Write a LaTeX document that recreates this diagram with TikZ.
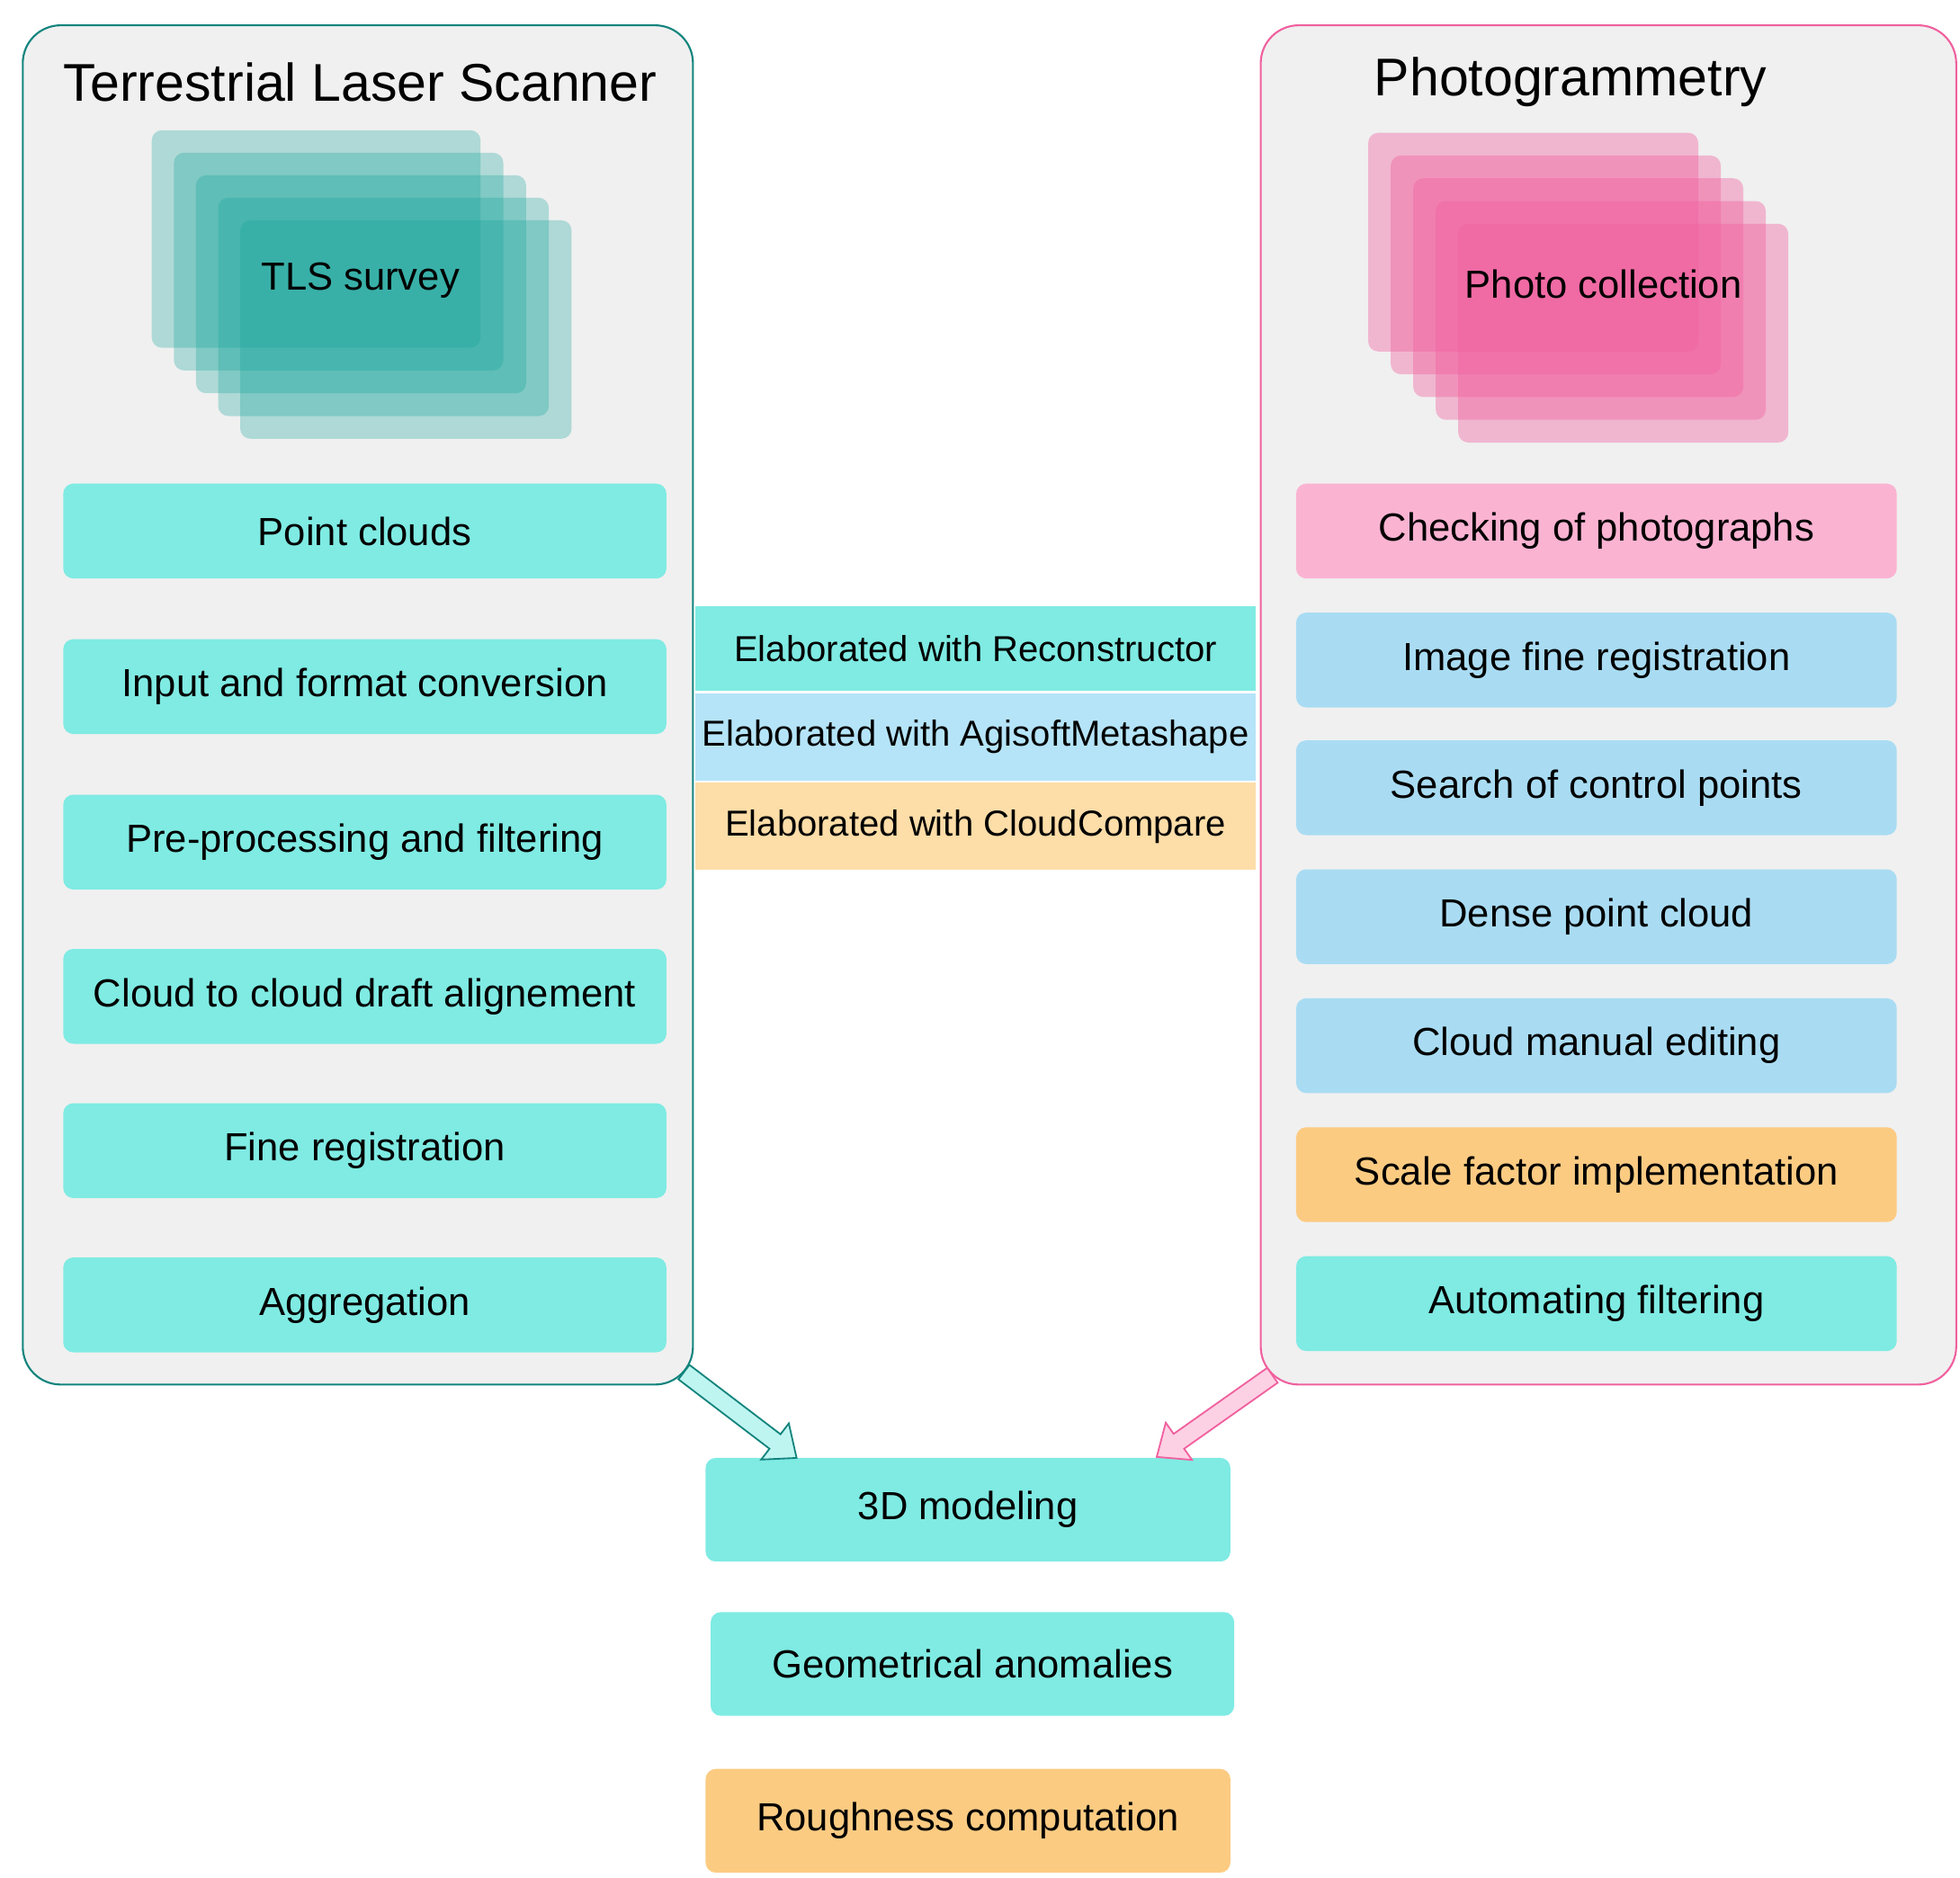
\documentclass[tikz,border=0pt]{standalone}
\usepackage{fontspec}
\setmainfont{Liberation Sans}
\usetikzlibrary{shapes.arrows}
\definecolor{tealb}{HTML}{7FEBE3}
\definecolor{blueb}{HTML}{A9DCF3}
\definecolor{pinkb}{HTML}{FBB3D2}
\definecolor{orgb}{HTML}{FCCB82}
\definecolor{orgl}{HTML}{FDDDA8}
\definecolor{bluel}{HTML}{B5E4F8}
\definecolor{tealdk}{HTML}{16A59C}
\definecolor{pinkdk}{HTML}{F0609E}
\definecolor{panel}{HTML}{F0F0F0}
\tikzset{
 box/.style={rounded corners=8pt, inner sep=0pt, font=\fontsize{31}{36}\selectfont},
 leg/.style={inner sep=0pt, font=\fontsize{28.5}{32}\selectfont},
 tl/.style={fill=tealdk, fill opacity=0.3, rounded corners=8pt},
 ph/.style={fill=pinkdk, fill opacity=0.4, rounded corners=8pt},
 arr/.style={single arrow,line width=1.3pt,minimum height=112pt,minimum width=36pt,single arrow head extend=10pt,inner sep=6pt,text height=0pt,text depth=0pt,single arrow tip angle=80},
}
\newcommand{\bx}[6]{\node[box,fill=#6,minimum width=#3pt-#2pt,minimum height=75pt] (#1) at ({(#2+#3)/2},#4) {#5};}
\begin{document}
\begin{tikzpicture}[x=1pt,y=-1pt]
\useasboundingbox (0,0) rectangle (1550,1485);
\draw[tealdk!80!black, line width=1.5pt, fill=panel, rounded corners=30pt] (18,20) rectangle (548,1095);
\draw[pinkdk, line width=1.5pt, fill=panel, rounded corners=30pt] (997,20) rectangle (1547,1095);
\node[font=\fontsize{42}{48}\selectfont] (t1) at (285,65) {Terrestrial Laser Scanner};
\node[font=\fontsize{42}{48}\selectfont] (t2) at (1242,65) {Photogrammetry};
\foreach \i in {0,...,4}{
 \fill[tl] ({120+17.5*\i},{103+17.8*\i}) rectangle ({380+18*\i},{275+18*\i});
 \fill[ph] ({1082+17.8*\i},{105+18*\i}) rectangle ({1343+17.8*\i},{278+18*\i});
}
\node[font=\fontsize{31}{36}\selectfont] (tls) at (285,222) {TLS survey};
\node[font=\fontsize{31}{36}\selectfont] (pc) at (1268,225) {Photo collection};
\bx{l1}{50}{527}{420}{Point clouds}{tealb}
\bx{l2}{50}{527}{543}{Input and format conversion}{tealb}
\bx{l3}{50}{527}{666}{Pre-processing and filtering}{tealb}
\bx{l4}{50}{527}{788}{Cloud to cloud draft alignement}{tealb}
\bx{l5}{50}{527}{910}{Fine registration}{tealb}
\bx{l6}{50}{527}{1032}{Aggregation}{tealb}
\bx{r1}{1025}{1500}{420}{Checking of photographs}{pinkb}
\bx{r2}{1025}{1500}{522}{Image fine registration}{blueb}
\bx{r3}{1025}{1500}{623}{Search of control points}{blueb}
\bx{r4}{1025}{1500}{725}{Dense point cloud}{blueb}
\bx{r5}{1025}{1500}{827}{Cloud manual editing}{blueb}
\bx{r6}{1025}{1500}{929}{Scale factor implementation}{orgb}
\bx{r7}{1025}{1500}{1031}{Automating filtering}{tealb}
\node[leg,fill=tealb,minimum width=443pt,minimum height=67pt] (g1) at (771.5,513) {Elaborated with Reconstructor};
\node[leg,fill=bluel,minimum width=443pt,minimum height=69pt] (g2) at (771.5,583) {Elaborated with AgisoftMetashape};
\node[leg,fill=orgl,minimum width=443pt,minimum height=69pt] (g3) at (771.5,653.5) {Elaborated with CloudCompare};
\node[box,fill=tealb,minimum width=415pt,minimum height=82pt] (b1) at (765.5,1194) {3D modeling};
\node[box,fill=tealb,minimum width=414pt,minimum height=82pt] (b2) at (769,1316) {Geometrical anomalies};
\node[box,fill=orgb,minimum width=415pt,minimum height=82pt] (b3) at (765.5,1440) {Roughness computation};
\node[arr,draw=tealdk!80!black,fill=tealb!50!white,rotate=-37.3] (ar1) at (582,1116.5) {};
\node[arr,draw=pinkdk,fill=pinkb!60!white,rotate=215.2] (ar2) at (964,1117.5) {};
\end{tikzpicture}
\end{document}
